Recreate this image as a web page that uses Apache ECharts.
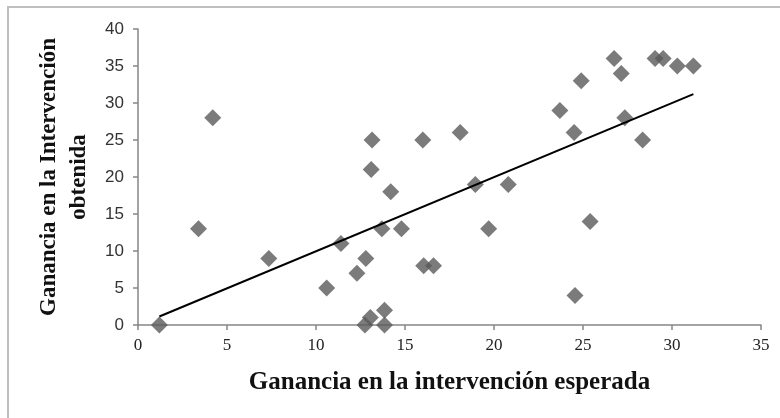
<!DOCTYPE html>
<html>
<head>
<meta charset="utf-8">
<script src="https://cdn.jsdelivr.net/npm/echarts@6/dist/echarts.min.js"></script>
<style>
    html, body {margin: 0; padding: 0; background: #fff;}
    #main {width: 780px; height: 418px;}
</style>
</head>
<body>
<div id="main"></div>
<script>
// ganancia esperada (x) / ganancia obtenida (y)
const esperada = [1.2, 3.4, 4.2, 7.35, 10.6, 11.4, 12.3, 12.8, 12.75, 13.05, 13.1, 13.15, 13.7,
    13.85, 13.85, 14.2, 14.8, 16.0, 16.05, 16.6, 18.1, 18.95, 19.7, 20.8, 23.7, 24.5, 24.55,
    24.9, 25.4, 26.75, 27.15, 27.35, 28.35, 29.05, 29.5, 30.3, 31.2];
const obtenida = [0, 13, 28, 9, 5, 11, 7, 9, 0, 1, 21, 25, 13,
    2, 0, 18, 13, 25, 8, 8, 26, 19, 13, 19, 29, 26, 4,
    33, 14, 36, 34, 28, 25, 36, 36, 35, 35];
// linea de tendencia
const trendX = [1.2, 31.2];
const trendY = [1.15, 31.2];

function puntos(xs, ys) {
    return xs.map(function (x, i) {
        return [x, ys[i]];
    });
}

const myChart = echarts.init(document.getElementById('main'));
const axisGray = '#868686';
const option = {
    animation: false,
    backgroundColor: '#fff',
    graphic: [{
        type: 'rect',
        shape: {x: 8, y: 7, width: 800, height: 450},
        style: {fill: 'none', stroke: '#bfbfbf', lineWidth: 2}
    }],
    grid: {
        left: 138,
        top: 29,
        right: 19,
        bottom: 93
    },
    xAxis: {
        type: 'value',
        min: 0,
        max: 35,
        interval: 5,
        name: 'Ganancia en la intervención esperada',
        nameLocation: 'middle',
        nameGap: 45,
        nameTextStyle: {
            fontFamily: 'Liberation Serif',
            fontWeight: 'bold',
            fontSize: 25,
            color: '#111'
        },
        axisLine: {lineStyle: {color: axisGray, width: 1.5}},
        axisTick: {show: true, length: 5, lineStyle: {color: axisGray, width: 1.5}},
        axisLabel: {
            fontFamily: 'Liberation Serif',
            fontSize: 17,
            color: '#222',
            margin: 12
        },
        splitLine: {show: false}
    },
    yAxis: {
        type: 'value',
        min: 0,
        max: 40,
        interval: 5,
        name: 'Ganancia en la Intervención\nobtenida',
        nameLocation: 'middle',
        nameGap: 43,
        nameTextStyle: {
            fontFamily: 'Liberation Serif',
            fontWeight: 'bold',
            fontSize: 23,
            lineHeight: 30,
            color: '#111'
        },
        axisLine: {show: true, lineStyle: {color: axisGray, width: 1.5}},
        axisTick: {show: true, length: 5, lineStyle: {color: axisGray, width: 1.5}},
        axisLabel: {
            fontFamily: 'Liberation Sans',
            fontSize: 17,
            color: '#333',
            margin: 14
        },
        splitLine: {show: false}
    },
    series: [
        {
            name: 'Ganancia',
            type: 'scatter',
            symbol: 'diamond',
            symbolSize: 17,
            itemStyle: {color: '#5a5a5a'},
            data: puntos(esperada, obtenida),
            z: 3
        },
        {
            name: 'Tendencia',
            type: 'line',
            symbol: 'none',
            lineStyle: {color: '#000', width: 2},
            data: puntos(trendX, trendY),
            z: 4
        }
    ]
};
myChart.setOption(option);
</script>
</body>
</html>
